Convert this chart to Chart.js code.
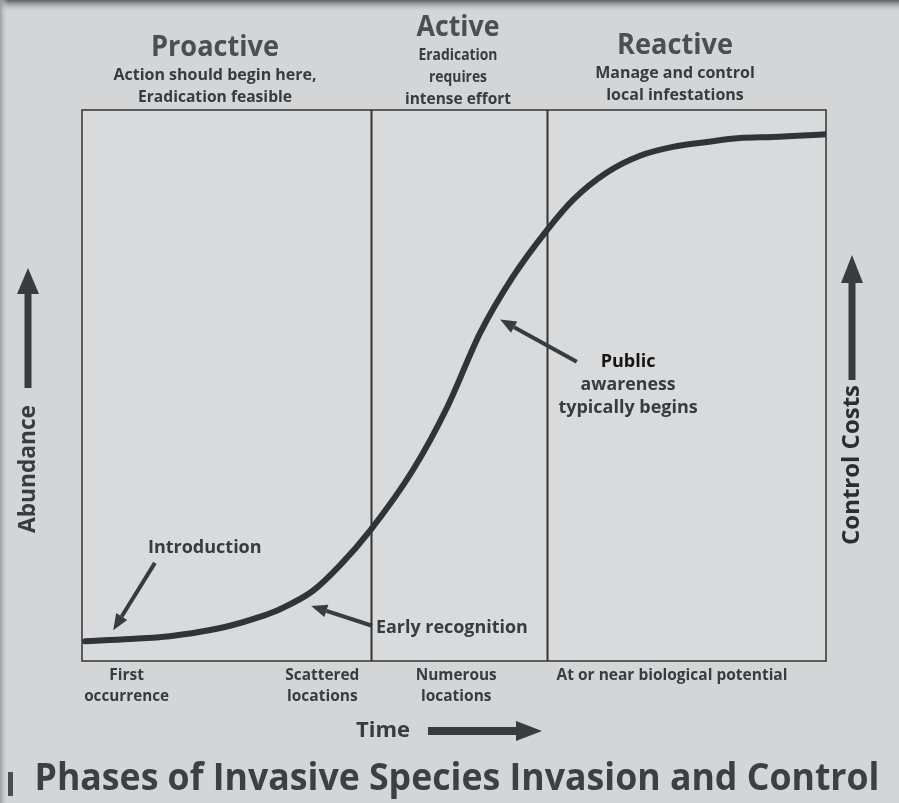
<!DOCTYPE html>
<html>
<head>
<meta charset="utf-8">
<title>Phases of Invasive Species Invasion and Control</title>
<script src="https://cdn.jsdelivr.net/npm/chart.js@4.4.1/dist/chart.umd.min.js"></script>
<style>
  html, body { margin: 0; padding: 0; background: #d3d5d6; }
  #wrap { width: 899px; height: 803px; position: relative; }
</style>
</head>
<body>
<div id="wrap"><canvas id="invasionChart"></canvas></div>
<script>
// Abundance curve, both axes on a 0-100 relative scale
const timeSteps = [0.4, 6.5, 11.8, 15.9, 19.9, 23.9, 26.6, 31.0, 34.7, 38.8, 44.5, 49.1, 53.5, 57.9, 62.5, 66.0, 70.6, 75.0, 79.4, 84.0, 88.4, 92.9, 100];
const abundance = [3.6, 4.0, 4.5, 5.3, 6.4, 8.0, 9.4, 12.7, 17.4, 23.8, 34.7, 46.1, 59.5, 69.7, 78.2, 83.7, 88.7, 91.7, 93.3, 94.2, 94.9, 95.1, 95.6];

// Phase boundaries on the time axis
const phaseBounds = [38.8, 62.5];
const phaseNames = ['Proactive', 'Active', 'Reactive'];
const phaseNotes = [
  ['Action should begin here,', 'Eradication feasible'],
  ['Eradication', 'requires', 'intense effort'],
  ['Manage and control', 'local infestations']
];

// Spread stages under the time axis
const stageLabels = [['First', 'occurrence'], ['Scattered', 'locations'], ['Numerous', 'locations'], ['At or near biological potential']];
const stageAt = [6, 32.3, 50.3, 79.3];

// Callouts: text anchor and arrow (from -> to), in data units
const callouts = [
  { lines: ['Introduction'], at: [16.5, 20.6], align: 'center', from: [9.8, 17.8], to: [4.2, 5.6] },
  { lines: ['Early recognition'], at: [39.5, 6.0], align: 'left', from: [39.0, 6.4], to: [30.8, 10.0] },
  { lines: ['Public', 'awareness', 'typically begins'], at: [73.4, 54.3], align: 'center', from: [66.5, 54.3], to: [56.2, 62.0] }
];

const INK = '#383b3f';
const FONT = '"Open Sans", "DejaVu Sans", sans-serif';

function label(ctx, text, x, y, size, maxW, color, align) {
  ctx.save();
  ctx.font = 'bold ' + size + 'px ' + FONT;
  ctx.fillStyle = color || INK;
  ctx.textAlign = align || 'center';
  ctx.textBaseline = 'middle';
  ctx.fillText(text, x, y, maxW);
  ctx.restore();
}

function arrow(ctx, x1, y1, x2, y2, width, head, headW) {
  const ang = Math.atan2(y2 - y1, x2 - x1);
  const bx = x2 - Math.cos(ang) * head;
  const by = y2 - Math.sin(ang) * head;
  ctx.save();
  ctx.strokeStyle = INK;
  ctx.fillStyle = INK;
  ctx.lineWidth = width;
  ctx.beginPath();
  ctx.moveTo(x1, y1);
  ctx.lineTo(bx, by);
  ctx.stroke();
  ctx.beginPath();
  ctx.moveTo(x2, y2);
  ctx.lineTo(bx + Math.sin(ang) * headW / 2, by - Math.cos(ang) * headW / 2);
  ctx.lineTo(bx - Math.sin(ang) * headW / 2, by + Math.cos(ang) * headW / 2);
  ctx.closePath();
  ctx.fill();
  ctx.restore();
}

const slideBackground = {
  id: 'slideBackground',
  beforeDraw(chart) {
    const { ctx, width, height } = chart;
    ctx.save();
    ctx.fillStyle = '#d3d5d6';
    ctx.fillRect(0, 0, width, height);
    // darker top edge of the slide
    const g = ctx.createLinearGradient(0, 0, 0, 12);
    g.addColorStop(0, '#5a5d60');
    g.addColorStop(1, 'rgba(211,213,214,0)');
    ctx.fillStyle = g;
    ctx.fillRect(0, 0, width, 12);
    const gl = ctx.createLinearGradient(0, 0, 8, 0);
    gl.addColorStop(0, '#9a9c9e');
    gl.addColorStop(1, 'rgba(211,213,214,0)');
    ctx.fillStyle = gl;
    ctx.fillRect(0, 0, 8, height);
    ctx.fillStyle = '#4a4d50';
    ctx.fillRect(8, 772, 5, 24);
    ctx.restore();
  }
};

const phaseFrame = {
  id: 'phaseFrame',
  beforeDatasetsDraw(chart) {
    const { ctx, chartArea: a, scales: { x } } = chart;
    ctx.save();
    ctx.fillStyle = '#d8dadb';
    ctx.fillRect(a.left, a.top, a.right - a.left, a.bottom - a.top);
    ctx.strokeStyle = '#333';
    ctx.lineWidth = 1.5;
    ctx.strokeRect(a.left, a.top, a.right - a.left, a.bottom - a.top);
    ctx.lineWidth = 2;
    phaseBounds.forEach(b => {
      const px = Math.round(x.getPixelForValue(b)) + 0.5;
      ctx.beginPath();
      ctx.moveTo(px, a.top);
      ctx.lineTo(px, a.bottom);
      ctx.stroke();
    });
    ctx.restore();
  }
};

const annotations = {
  id: 'annotations',
  afterDraw(chart) {
    const { ctx, scales: { x, y } } = chart;
    const px = v => x.getPixelForValue(v);
    const py = v => y.getPixelForValue(v);

    // phase headings above the frame
    const headX = [215, 458, 675];
    const headY = [48, 28, 46];
    const headW = [128, 83, 116];
    const noteW = [[205, 154], [79, 58, 106], [161, 138]];
    phaseNames.forEach((name, i) => {
      label(ctx, name, headX[i], headY[i], 28, headW[i], '#4b4e52');
      phaseNotes[i].forEach((ln, j) => {
        label(ctx, ln, headX[i], headY[i] + 27 + j * 22, 16, noteW[i][j]);
      });
    });

    // stage labels under the axis
    const stageW = [[41, 85], [74, 71], [81, 72], [235]];
    stageLabels.forEach((lines, i) => {
      lines.forEach((ln, j) => {
        label(ctx, ln, px(stageAt[i]), 676 + j * 21, 15.5, stageW[i][j]);
      });
    });

    // callouts inside the plot
    const calloutW = [[115], [152], [55, 95, 143]];
    callouts.forEach((c, i) => {
      c.lines.forEach((ln, j) => {
        const color = (i === 2 && j === 0) ? '#151515' : INK;
        label(ctx, ln, px(c.at[0]), py(c.at[1]) + j * 23, 18, calloutW[i][j], color, c.align);
      });
      arrow(ctx, px(c.from[0]), py(c.from[1]), px(c.to[0]), py(c.to[1]), 4, 16, 13);
    });

    // axis names with their arrows
    label(ctx, 'Time', 383, 731, 22, 54);
    arrow(ctx, 428, 731, 542, 731, 8, 26, 20);

    ctx.save();
    ctx.translate(28, 469);
    ctx.rotate(-Math.PI / 2);
    label(ctx, 'Abundance', 0, 0, 23, 128);
    ctx.restore();
    arrow(ctx, 28, 388, 28, 268, 7, 26, 22);

    ctx.save();
    ctx.translate(852, 465);
    ctx.rotate(-Math.PI / 2);
    label(ctx, 'Control Costs', 0, 0, 24, 160, '#2b2e31');
    ctx.restore();
    arrow(ctx, 852, 380, 852, 255, 7, 28, 22);

    // slide title
    label(ctx, 'Phases of Invasive Species Invasion and Control', 457, 779, 37, 845, '#3c3f43');
  }
};

new Chart(document.getElementById('invasionChart'), {
  type: 'line',
  data: {
    datasets: [{
      label: 'Abundance',
      data: timeSteps.map((t, i) => ({ x: t, y: abundance[i] })),
      borderColor: '#303337',
      borderWidth: 6,
      borderCapStyle: 'round',
      cubicInterpolationMode: 'monotone',
      pointRadius: 0,
      fill: false
    }]
  },
  options: {
    responsive: true,
    maintainAspectRatio: false,
    animation: false,
    layout: { padding: { left: 82, right: 73, top: 110, bottom: 142 } },
    scales: {
      x: { type: 'linear', min: 0, max: 100, display: false },
      y: { min: 0, max: 100, display: false }
    },
    plugins: {
      legend: { display: false },
      tooltip: { enabled: false }
    }
  },
  plugins: [slideBackground, phaseFrame, annotations]
});
</script>
</body>
</html>
